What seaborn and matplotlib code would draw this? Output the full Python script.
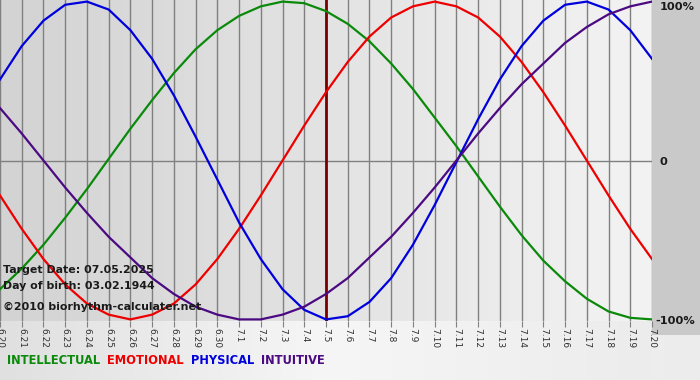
import numpy as np
import pandas as pd
import seaborn as sns
import matplotlib.pyplot as plt
from matplotlib.colors import LinearSegmentedColormap

# values, one per day from 6.20 to 7.20
day_labels = ['6.20', '6.21', '6.22', '6.23', '6.24', '6.25', '6.26', '6.27', '6.28', '6.29', '6.30',
              '7.1', '7.2', '7.3', '7.4', '7.5', '7.6', '7.7', '7.8', '7.9', '7.10',
              '7.11', '7.12', '7.13', '7.14', '7.15', '7.16', '7.17', '7.18', '7.19', '7.20']
intellectual = [-0.81, -0.68, -0.53, -0.36, -0.18, 0.01, 0.20, 0.38, 0.55, 0.70, 0.82,
                0.91, 0.97, 1.00, 0.99, 0.94, 0.86, 0.75, 0.61, 0.45, 0.27,
                0.09, -0.10, -0.29, -0.47, -0.63, -0.76, -0.87, -0.95, -0.99, -1.00]
emotional = [-0.22, -0.43, -0.62, -0.78, -0.90, -0.97, -1.00, -0.97, -0.90, -0.78, -0.62,
             -0.43, -0.22, 0.00, 0.22, 0.43, 0.62, 0.78, 0.90, 0.97, 1.00,
             0.97, 0.90, 0.78, 0.62, 0.43, 0.22, 0.00, -0.22, -0.43, -0.62]
physical = [0.51, 0.72, 0.88, 0.98, 1.00, 0.95, 0.82, 0.64, 0.41, 0.15, -0.12,
            -0.39, -0.62, -0.81, -0.94, -1.00, -0.98, -0.89, -0.74, -0.53, -0.28,
            -0.01, 0.26, 0.51, 0.72, 0.88, 0.98, 1.00, 0.95, 0.82, 0.64]
intuitive = [0.33, 0.17, 0.00, -0.17, -0.33, -0.48, -0.61, -0.74, -0.84, -0.92, -0.97,
             -1.00, -1.00, -0.97, -0.92, -0.84, -0.74, -0.61, -0.48, -0.33, -0.17,
             0.00, 0.17, 0.33, 0.48, 0.61, 0.74, 0.84, 0.92, 0.97, 1.00]
target_day = '7.5'

names = ['INTELLECTUAL', 'EMOTIONAL', 'PHYSICAL', 'INTUITIVE']
colors = ['#0a8a0a', '#ee0000', '#0000dd', '#4b0a82']

days = np.arange(len(day_labels))
df = pd.DataFrame({'day': np.tile(days, 4),
                   'value': intellectual + emotional + physical + intuitive,
                   'cycle': np.repeat(names, len(days))})

W, H = 700, 380
fig = plt.figure(figsize=(7, 3.8), dpi=100)
fig.patch.set_facecolor('#c9c9c9')

# light strip under the chart
strip = LinearSegmentedColormap.from_list('strip', ['#e0e0e0', '#f6f6f6', '#ececec'])
grad = np.linspace(0, 1, 256).reshape(1, -1)
for rect in ([0, 0, 1, 45 / H], [0, 0, 652 / W, 59 / H]):
    bg = fig.add_axes(rect)
    bg.imshow(grad, aspect='auto', extent=[0, 1, 0, 1], cmap=strip)
    bg.axis('off')

ax = fig.add_axes([0, (H - 321) / H, 652 / W, 321 / H])
ax.imshow(grad, aspect='auto', extent=[0, 30, -1.01, 1.01],
          cmap=LinearSegmentedColormap.from_list('plot', ['#d3d3d3', '#f3f3f3']), zorder=0)

ax.set_xticks(days)
ax.set_xticklabels(day_labels)
ax.grid(axis='x', color='#808080', lw=1, zorder=1)
ax.axhline(0, color='#808080', lw=1, zorder=1)
ax.axvline(day_labels.index(target_day), color='#7a0000', lw=2, zorder=2)

sns.lineplot(data=df, x='day', y='value', hue='cycle', palette=dict(zip(names, colors)),
             lw=1.6, legend=False, ax=ax, zorder=3)

ax.set_xlim(0, 30)
ax.set_ylim(-1.01, 1.01)
ax.set_yticks([])
ax.set_xlabel('')
ax.set_ylabel('')
for s in ax.spines.values():
    s.set_visible(False)
ax.tick_params(axis='x', direction='out', length=4, color='#808080', labelsize=6.5,
               labelcolor='#303030', labelrotation=270, pad=1)

def px(x, y):
    return x / W, 1 - y / H

txt = dict(fontsize=7.9, fontweight='bold', color='#1a1a1a', va='center', ha='left')
fig.text(*px(3, 270), 'Target Date: 07.05.2025', **txt)
fig.text(*px(3, 286), 'Day of birth: 03.02.1944', **txt)
fig.text(*px(3, 307), '\u00a92010 biorhythm-calculater.net', **txt)

rt = dict(txt, fontsize=8.2)
fig.text(*px(660, 7), '100%', **rt)
fig.text(*px(660, 162), '0', **rt)
fig.text(*px(655, 321), '-100%', **rt)

x = 7
for n, c in zip(names, colors):
    t = fig.text(*px(x, 361), n, fontsize=8.3, fontweight='bold', color=c, va='center', ha='left')
    fig.canvas.draw()
    bb = t.get_window_extent()
    x += bb.width + 7

fig.savefig('out.png', dpi=100, facecolor=fig.get_facecolor())
